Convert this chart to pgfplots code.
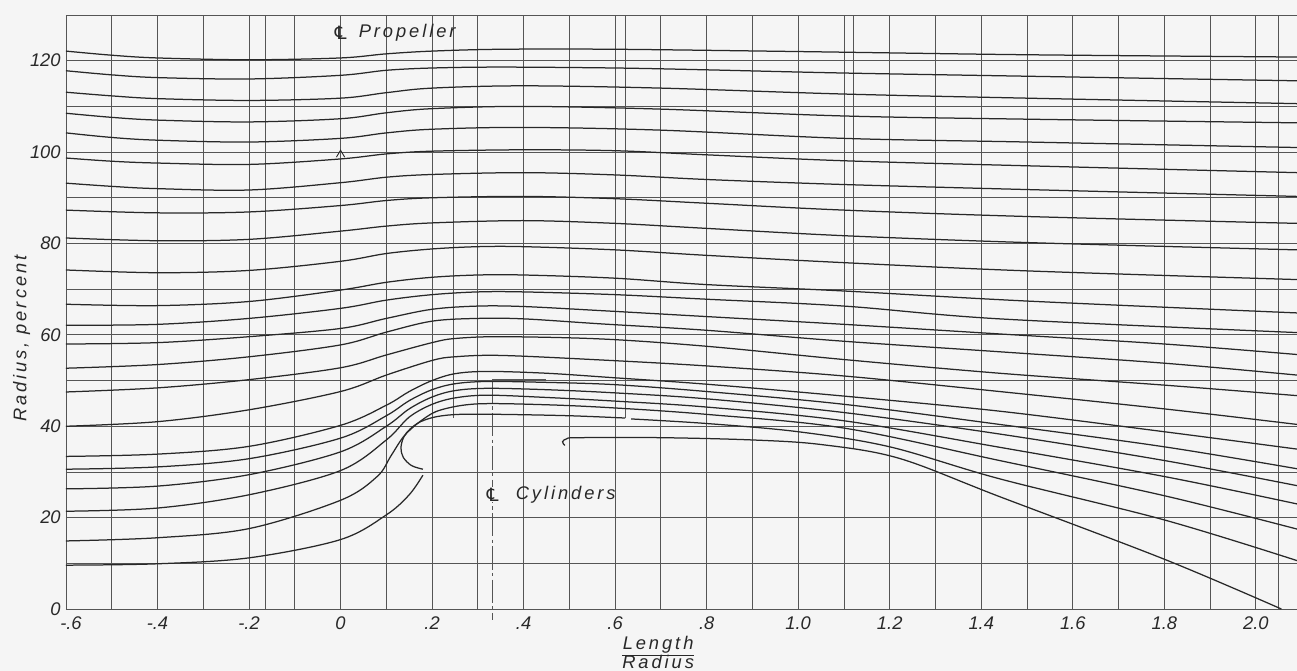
\documentclass[border=0pt]{standalone}
\usepackage{pgfplots}
\pgfplotsset{compat=1.18}
\usepackage{fontspec}
\setmainfont{Liberation Sans}
\newfontfamily\spaced{Liberation Sans}[LetterSpace=16]
\newfontfamily\symfont{DejaVu Sans}
\definecolor{paper}{RGB}{245,245,245}
\definecolor{ink}{RGB}{40,40,40}
\definecolor{gridc}{RGB}{85,85,85}
\newcommand{\CL}{{\symfont ℄}}
\newcommand{\lab}{\itshape\fontsize{11}{12}\selectfont}
\newcommand{\txt}{\spaced\itshape\fontsize{11}{12}\selectfont}

\begin{document}
\begin{tikzpicture}
\fill[paper] (-39.6pt,-37.2pt) rectangle (739pt,365.6pt);
\begin{axis}[
  scale only axis, width=739pt, height=356.6pt,
  xmin=-0.6, xmax=2.09, ymin=0, ymax=130,
  clip=false,
  axis line style={draw=none},
  major tick length=0pt, minor tick length=0pt,
  xtick={-0.6,-0.4,-0.2,0,0.2,0.4,0.6,0.8,1.0,1.2,1.4,1.6,1.8,2.0},
  xticklabels={{\kern6pt-.6},-.4,-.2,0,.2,.4,.6,.8,1.0,1.2,1.4,1.6,1.8,2.0},
  minor xtick={-0.5,-0.3,-0.1,0.1,0.3,0.5,0.7,0.9,1.1,1.3,1.5,1.7,1.9},
  ytick={0,20,40,60,80,100,120},
  yticklabels={0,20,40,60,80,100,120},
  minor ytick={10,30,50,70,90,110,130},
  grid=both,
  grid style={gridc, line width=0.5pt},
  minor grid style={gridc, line width=0.5pt},
  tick label style={font=\lab, text=ink},
  xticklabel style={anchor=north, inner sep=1pt, yshift=-3.5pt},
  yticklabel style={anchor=east, inner sep=1pt, xshift=-2pt},
  ylabel={Radius, percent},
  ylabel style={font=\txt, text=ink, at={(axis description cs:-0.036,0.455)}, anchor=center},
  xlabel={\renewcommand{\arraystretch}{0.9}\begin{tabular}{@{}c@{}}Length\\\hline Radius\end{tabular}},
  xlabel style={font=\txt, text=ink, at={(axis description cs:0.481,-0.036)}, anchor=north},
  sl/.style={ink, line width=0.75pt, smooth, tension=0.55, mark=none},
  vl/.style={gridc, line width=0.6pt, mark=none},
  cl/.style={gridc, line width=0.55pt, mark=none, dash pattern=on 14pt off 2pt on 2pt off 2pt},
]
% extra construction lines
\addplot[vl] coordinates {(-0.165,0)(-0.165,130)};
\addplot[vl] coordinates {(0.247,41.8)(0.247,130)};
\addplot[vl] coordinates {(0.622,41.8)(0.622,130)};
\addplot[vl] coordinates {(1.12,35.2)(1.12,130)};
\addplot[vl] coordinates {(2.05,0)(2.05,130)};
% centre lines
\addplot[cl] coordinates {(0,123.2)(0,0)};
\addplot[cl] coordinates {(0.332,50.2)(0.332,-2.5)};
\addplot[gridc, line width=0.55pt] coordinates {(0.332,50.2)(0.45,50.2)};
\addplot[ink, line width=0.55pt] coordinates {(-0.009,98.9)(0,100.4)(0.009,98.9)};

% streamlines from upstream
\addplot[sl] coordinates {(-0.6,122.1)(-0.5,121.2)(-0.4,120.6)(-0.2,120.2)(0,120.6)(0.1,121.5)(0.2,122.1)(0.35,122.5)(0.6,122.5)(1.0,122.0)(1.5,121.3)(2.09,120.8)};
\addplot[sl] coordinates {(-0.6,117.8)(-0.5,116.9)(-0.4,116.3)(-0.2,116.0)(0,116.8)(0.1,117.9)(0.2,118.4)(0.35,118.6)(0.6,118.4)(0.8,118.0)(1.1,117.3)(1.5,116.6)(2.09,115.6)};
\addplot[sl] coordinates {(-0.6,113.1)(-0.5,112.3)(-0.4,111.7)(-0.2,111.3)(0,111.8)(0.1,113.0)(0.2,114.0)(0.4,114.5)(0.7,114.0)(1.1,112.7)(1.5,111.8)(2.09,110.6)};
\addplot[sl] coordinates {(-0.6,108.5)(-0.5,107.6)(-0.4,107.0)(-0.2,106.6)(0,107.3)(0.1,108.6)(0.2,109.5)(0.4,110.0)(0.7,109.4)(1.1,107.9)(1.5,107.2)(2.09,106.4)};
\addplot[sl] coordinates {(-0.6,104.2)(-0.5,103.2)(-0.4,102.6)(-0.2,102.2)(0,103.0)(0.1,104.2)(0.2,105.0)(0.4,105.4)(0.7,104.8)(1.1,103.0)(1.5,102.2)(2.09,101.0)};
\addplot[sl] coordinates {(-0.6,98.7)(-0.5,98.0)(-0.4,97.6)(-0.2,97.3)(0,98.5)(0.1,99.6)(0.2,100.2)(0.4,100.5)(0.6,100.3)(0.8,99.4)(1.1,98.1)(1.5,97.0)(2.09,95.5)};
\addplot[sl] coordinates {(-0.6,93.2)(-0.5,92.5)(-0.4,92.0)(-0.2,91.7)(0,93.3)(0.1,94.5)(0.2,95.1)(0.4,95.5)(0.6,95.0)(0.8,94.0)(1.1,92.9)(1.5,91.8)(2.09,90.3)};
\addplot[sl] coordinates {(-0.6,87.3)(-0.4,86.7)(-0.2,86.9)(0,88.3)(0.1,89.4)(0.2,90.0)(0.4,90.3)(0.6,89.8)(0.8,88.8)(1.1,87.3)(1.5,85.9)(2.09,84.4)};
\addplot[sl] coordinates {(-0.6,81.2)(-0.4,80.6)(-0.2,80.9)(0,82.7)(0.1,83.8)(0.2,84.5)(0.4,85.0)(0.6,84.4)(0.8,83.3)(1.1,81.7)(1.5,80.2)(2.09,78.6)};
\addplot[sl] coordinates {(-0.6,74.2)(-0.4,73.6)(-0.2,74.1)(0,76.1)(0.1,77.8)(0.2,78.8)(0.3,79.3)(0.4,79.3)(0.6,78.6)(0.8,77.4)(1.1,75.8)(1.5,74.0)(2.09,72.1)};
\addplot[sl] coordinates {(-0.6,66.7)(-0.4,66.4)(-0.2,67.3)(0,69.8)(0.1,71.5)(0.2,72.6)(0.3,73.1)(0.4,73.1)(0.6,72.4)(0.8,71.0)(1.1,69.6)(1.5,67.4)(2.09,64.8)};
\addplot[sl] coordinates {(-0.6,62.1)(-0.4,62.3)(-0.2,63.6)(0,65.8)(0.1,67.6)(0.2,68.8)(0.3,69.4)(0.4,69.4)(0.6,68.8)(0.8,67.8)(1.1,66.3)(1.44,63.5)(2.09,60.5)};
\addplot[sl] coordinates {(-0.6,58.0)(-0.4,58.3)(-0.2,59.6)(0,61.4)(0.1,63.6)(0.2,65.6)(0.3,66.3)(0.4,66.2)(0.57,65.3)(0.8,64.0)(1.1,62.3)(1.44,60.2)(1.8,58.0)(2.09,55.7)};
\addplot[sl] coordinates {(-0.6,52.7)(-0.4,53.5)(-0.2,55.2)(0,57.8)(0.1,60.6)(0.2,63.0)(0.3,63.6)(0.4,63.5)(0.57,62.4)(0.8,61.0)(1.1,58.6)(1.44,56.3)(1.8,53.8)(2.09,51.2)};
\addplot[sl] coordinates {(-0.6,47.5)(-0.4,48.4)(-0.2,50.2)(0,52.8)(0.1,55.6)(0.2,58.3)(0.25,59.2)(0.35,59.6)(0.57,59.1)(0.8,57.5)(1.1,54.6)(1.44,51.6)(1.8,49.0)(2.09,46.7)};
\addplot[sl] coordinates {(-0.6,40.0)(-0.4,41.0)(-0.2,43.6)(0,47.6)(0.1,51.2)(0.2,54.4)(0.25,55.2)(0.35,55.5)(0.57,54.5)(0.8,53.2)(1.1,51.0)(1.44,47.6)(1.8,43.8)(2.09,40.4)};
\addplot[sl] coordinates {(-0.6,33.4)(-0.4,33.9)(-0.2,35.6)(0,40.2)(0.1,44.6)(0.15,47.6)(0.2,50.0)(0.25,51.5)(0.32,52.0)(0.45,51.6)(0.6,50.6)(0.8,49.2)(1.1,46.6)(1.44,43.3)(1.8,38.8)(2.09,35.0)};
\addplot[sl] coordinates {(-0.6,30.6)(-0.4,31.1)(-0.2,32.9)(0,37.4)(0.1,42.3)(0.15,45.6)(0.2,48.0)(0.25,49.3)(0.32,49.8)(0.45,49.6)(0.6,49.1)(0.8,47.6)(1.1,44.8)(1.44,40.4)(1.8,35.5)(2.09,30.7)};
\addplot[sl] coordinates {(-0.6,26.3)(-0.4,26.9)(-0.2,29.4)(0,34.4)(0.1,40.0)(0.15,43.8)(0.2,46.4)(0.25,47.8)(0.32,48.3)(0.45,48.0)(0.6,47.3)(0.8,46.0)(1.1,43.0)(1.44,38.3)(1.8,32.5)(2.09,27.0)};
\addplot[sl] coordinates {(-0.6,21.4)(-0.4,22.1)(-0.2,25.0)(0,30.3)(0.1,37.0)(0.15,42.0)(0.2,44.8)(0.25,46.2)(0.32,46.8)(0.45,46.3)(0.6,45.5)(0.8,44.2)(1.1,41.2)(1.44,35.4)(1.8,29.0)(2.09,23.0)};
\addplot[sl] coordinates {(-0.6,14.9)(-0.4,15.6)(-0.2,17.6)(0,23.8)(0.08,29.0)(0.11,33.5)(0.14,38.0)(0.18,41.5)(0.22,43.6)(0.3,44.9)(0.45,44.7)(0.6,44.0)(0.8,42.6)(1.1,39.6)(1.44,32.5)(1.8,24.8)(2.09,17.5)};
\addplot[sl] coordinates {(-0.6,9.6)(-0.4,9.9)(-0.2,11.2)(0,15.2)(0.1,20.6)(0.15,25.0)(0.18,29.3)};
% dividing streamline round the nose
\addplot[sl] coordinates {(0.18,30.6)(0.155,31.4)(0.137,33.2)(0.132,35.3)(0.138,37.6)(0.152,39.4)(0.175,41.0)(0.21,42.1)(0.26,42.6)(0.35,42.6)(0.5,42.3)(0.622,41.8)};
\addplot[sl] coordinates {(0.635,41.6)(0.8,40.6)(1.0,38.8)(1.2,35.5)(1.44,28.5)(1.8,19.5)(2.09,10.6)};
\addplot[sl] coordinates {(0.49,35.8)(0.485,36.6)(0.495,37.3)(0.52,37.5)(0.7,37.5)(0.9,37.0)(1.05,36.0)(1.22,33.0)(1.44,24.6)(1.8,10.9)(2.056,0)};

% labels
\node[font=\lab, text=ink] at (axis cs:0,126.2) {\CL};
\node[font=\txt, text=ink, anchor=west] at (axis cs:0.027,126.2) {Propeller};
\node[font=\lab, text=ink, fill=paper, inner sep=0.5pt] at (axis cs:0.332,25) {\CL};
\node[font=\txt, text=ink, anchor=west] at (axis cs:0.37,25) {Cylinders};
\end{axis}
\pgfresetboundingbox
\path (-39.6pt,-37.2pt) rectangle (739pt,365.6pt);
\end{tikzpicture}
\end{document}
